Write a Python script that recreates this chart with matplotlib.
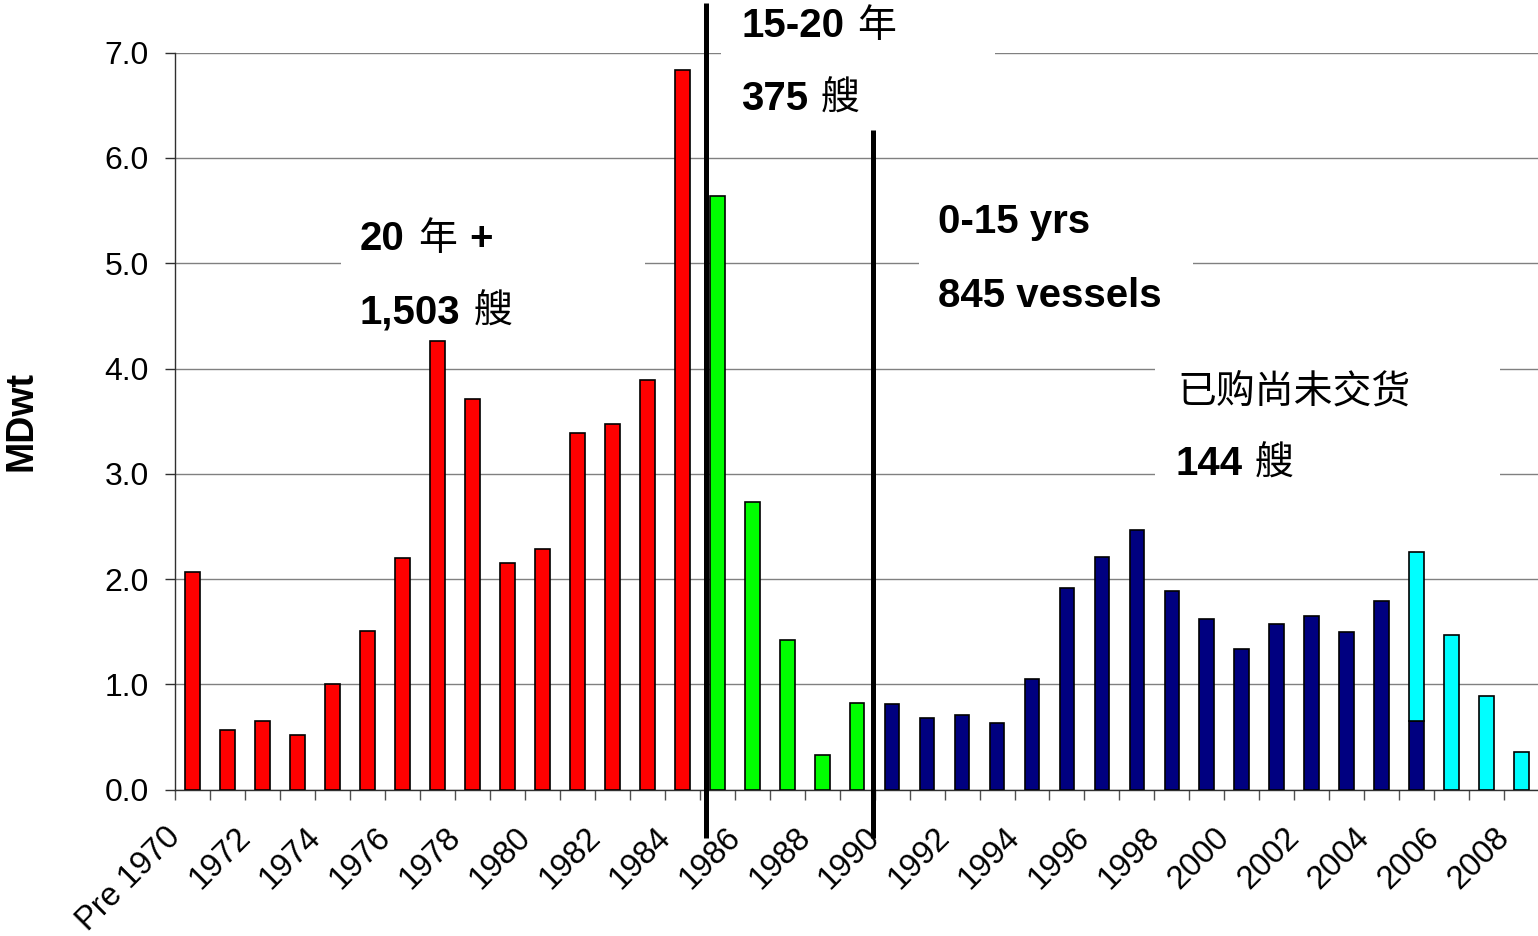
import matplotlib
matplotlib.use("Agg")
import matplotlib.pyplot as plt
from matplotlib.font_manager import FontProperties
from matplotlib.patches import Rectangle
from matplotlib.lines import Line2D
from matplotlib.transforms import ScaledTranslation

plt.rcParams['font.family'] = ['Liberation Sans', 'Noto Sans CJK SC']

# Build years: "Pre 1970", then 1971 .. 2008
categories = ["Pre 1970"] + [str(y) for y in range(1971, 2009)]

# Deadweight (million dwt) by build year, grouped by fleet age
age_20_plus = [2.07, 0.57, 0.65, 0.52, 1.00, 1.51, 2.20, 4.26, 3.71, 2.15,
               2.29, 3.39, 3.47, 3.89, 6.84]                      # Pre 1970 - 1984
age_15_20 = [5.64, 2.73, 1.42, 0.33, 0.82]                         # 1985 - 1989
age_0_15 = [0.81, 0.68, 0.71, 0.635, 1.05, 1.92, 2.21, 2.47, 1.89, 1.62,
            1.34, 1.57, 1.65, 1.50, 1.79, 0.65]                     # 1990 - 2005
on_order = [1.61, 1.47, 0.89, 0.36]                                 # 2005 - 2008

y_ticks = [0, 1, 2, 3, 4, 5, 6, 7]

W, H = 1538, 936
fig = plt.figure(figsize=(W / 100, H / 100), dpi=100)
ax = fig.add_axes([175.3 / W, 1 - 789.7 / H, (1539 - 175.3) / W, (789.7 - 52.7) / H])


def px(x, y):
    return (x / W, 1 - y / H)


bar_w = 0.42
edge = dict(edgecolor='black', linewidth=1.2, zorder=3)

i0 = 0
ax.bar(range(i0, i0 + len(age_20_plus)), age_20_plus, bar_w, color='#FF0000', **edge)
i1 = i0 + len(age_20_plus)
ax.bar(range(i1, i1 + len(age_15_20)), age_15_20, bar_w, color='#00FF00', **edge)
i2 = i1 + len(age_15_20)
ax.bar(range(i2, i2 + len(age_0_15)), age_0_15, bar_w, color='#000080', **edge)
i3 = i2 + len(age_0_15) - 1
bottoms = [age_0_15[-1]] + [0] * (len(on_order) - 1)
ax.bar(range(i3, i3 + len(on_order)), on_order, bar_w, bottom=bottoms,
       color='#00FFFF', **edge)

n = len(categories)
ax.set_xlim(-0.5, n - 0.5)
ax.set_ylim(0, 7)

# Axes styling
for s in ['top', 'right']:
    ax.spines[s].set_visible(False)
ax.spines['left'].set_color('#303030')
ax.spines['bottom'].set_color('#303030')
ax.spines['left'].set_linewidth(1.0)
ax.spines['bottom'].set_linewidth(1.0)

ax.set_yticks(y_ticks)
ax.set_yticklabels([f"{v:.1f}" for v in y_ticks])
ax.tick_params(axis='y', direction='out', length=7.2, width=1, color='#303030',
               labelsize=23, pad=12)
ax.yaxis.grid(True, color='#808080', linewidth=1.0)
ax.set_axisbelow(True)

# Tick marks sit between categories, labels at every other category centre
ax.set_xticks([i - 0.5 for i in range(n + 1)])
ax.set_xticklabels([])
ax.tick_params(axis='x', which='major', direction='out', length=7.2, width=1,
               color='#505050')
lab_idx = list(range(0, n, 2))
ax.set_xticks(lab_idx, minor=True)
ax.set_xticklabels([categories[i] for i in lab_idx], minor=True, fontsize=23.5,
                   rotation=45, ha='right', va='top', rotation_mode='anchor')
ax.tick_params(axis='x', which='minor', length=0, pad=23)
shift = ScaledTranslation(-20 / 72, 0, fig.dpi_scale_trans)
for lab in ax.get_xticklabels(minor=True):
    lab.set_transform(lab.get_transform() + shift)

fig.text(*px(22, 421), "MDwt", rotation=90, fontsize=27, fontweight='bold',
         ha='center', va='center')

# White panels behind the annotations
for x0, y0, x1, y1 in [(341, 195, 645, 335), (721, 0, 995, 129),
                       (919, 185, 1193, 335), (1155, 345, 1500, 500)]:
    fig.add_artist(Rectangle(px(x0, y1), (x1 - x0) / W, (y1 - y0) / H,
                             transform=fig.transFigure, facecolor='white',
                             edgecolor='none', zorder=1))

# Age-band dividers
for x, y0, y1 in [(706, 3, 838), (873, 130, 838)]:
    fig.add_artist(Line2D([x / W, x / W], [1 - y0 / H, 1 - y1 / H],
                          transform=fig.transFigure, color='black',
                          linewidth=3.6, solid_capstyle='butt', zorder=2))

bold = FontProperties(family='Liberation Sans', weight='bold', size=29)
cjk = FontProperties(family='Noto Sans CJK SC', size=28)
renderer = fig.canvas.get_renderer()


def rich_line(x, y, parts, gap=13):
    for s, fp in parts:
        t = fig.text(*px(x, y), s, fontproperties=fp, ha='left', va='baseline',
                     zorder=5)
        x += t.get_window_extent(renderer).width + gap


rich_line(360, 250, [("20", bold), ("年", cjk), ("+", bold)])
rich_line(360, 323, [("1,503", bold), ("艘", cjk)])
rich_line(741, 37, [("15-20", bold), ("年", cjk)])
rich_line(741, 110, [("375", bold), ("艘", cjk)])
rich_line(938, 233, [("0-15 yrs", bold)])
rich_line(938, 307, [("845 vessels", bold)])
rich_line(1177, 403, [("已购尚未交货", cjk)])
rich_line(1175, 475, [("144", bold), ("艘", cjk)])

fig.savefig("out.png", dpi=100)
